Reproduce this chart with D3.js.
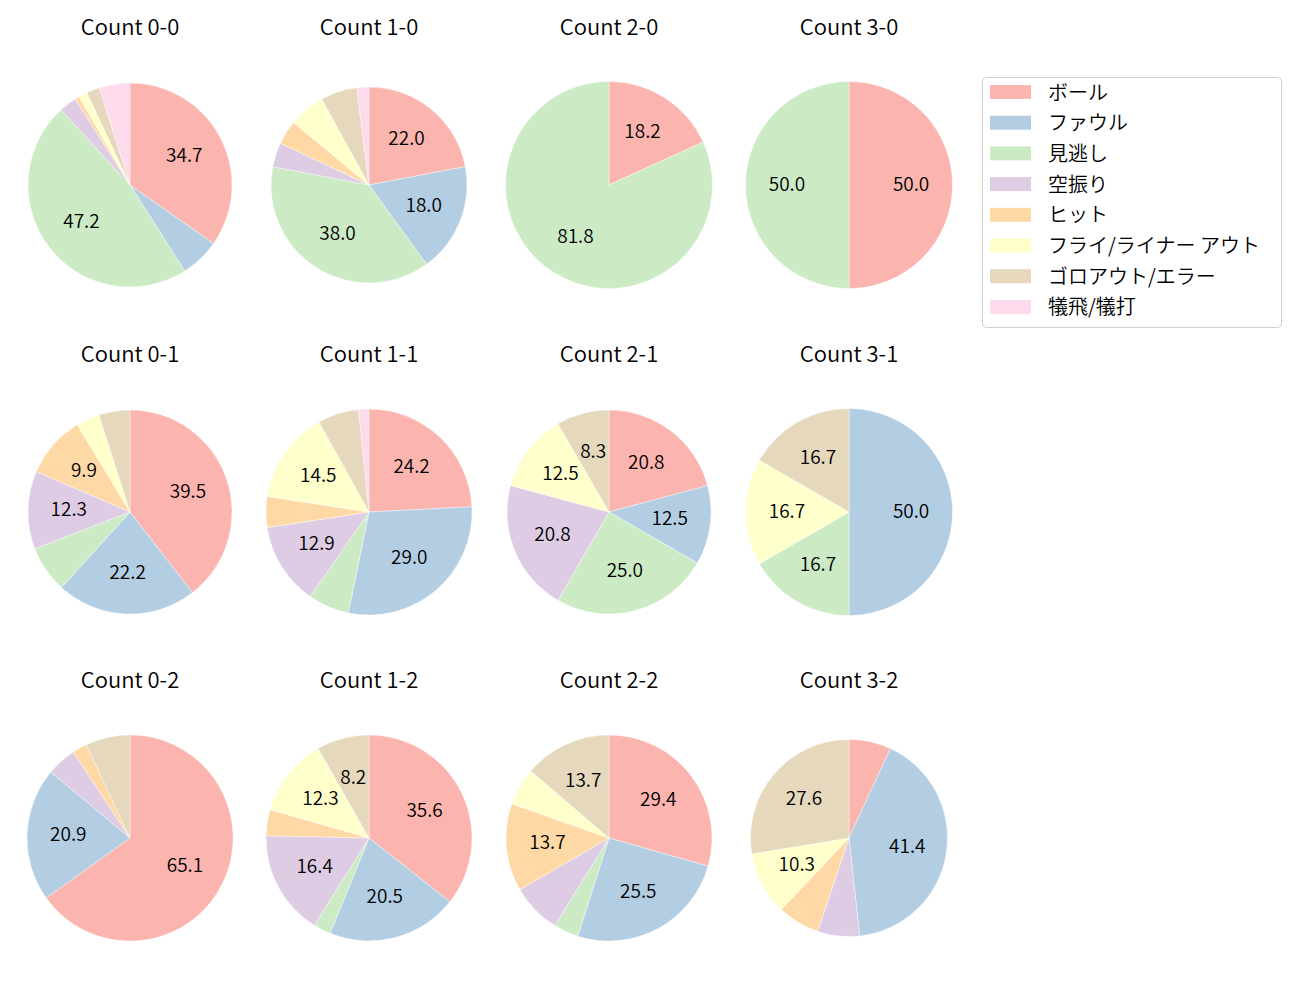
<!DOCTYPE html>
<html>
<head>
<meta charset="utf-8">
<script src="https://cdn.jsdelivr.net/npm/d3@7"></script>
<style>
  html, body { margin: 0; padding: 0; background: #fff; }
  svg { display: block; font-family: "Noto Sans CJK JP", "Noto Sans", sans-serif; }
</style>
</head>
<body>
<svg id="chart" width="1300" height="1000"></svg>
<script>
// ---- data ----
const categories = ["ボール", "ファウル", "見逃し", "空振り", "ヒット", "フライ/ライナー アウト", "ゴロアウト/エラー", "犠飛/犠打"];
const colors = ["#fbb4ae", "#b3cde3", "#ccebc5", "#decbe4", "#fed9a6", "#ffffcc", "#e5d8bd", "#fddaec"];
const titles = ["Count 0-0", "Count 1-0", "Count 2-0", "Count 3-0",
                "Count 0-1", "Count 1-1", "Count 2-1", "Count 3-1",
                "Count 0-2", "Count 1-2", "Count 2-2", "Count 3-2"];
const c00 = [50, 9, 68, 4, 1, 2, 3, 7];
const c10 = [11, 9, 19, 2, 2, 3, 3, 1];
const c20 = [2, 0, 9, 0, 0, 0, 0, 0];
const c30 = [1, 0, 1, 0, 0, 0, 0, 0];
const c01 = [32, 18, 6, 10, 8, 3, 4, 0];
const c11 = [15, 18, 4, 8, 3, 9, 4, 1];
const c21 = [5, 3, 6, 5, 0, 3, 2, 0];
const c31 = [0, 3, 1, 0, 0, 1, 1, 0];
const c02 = [28, 9, 0, 2, 1, 0, 3, 0];
const c12 = [26, 15, 2, 12, 3, 9, 6, 0];
const c22 = [15, 13, 2, 4, 7, 3, 7, 0];
const c32 = [2, 12, 0, 2, 2, 3, 8, 0];
const series = [c00, c10, c20, c30, c01, c11, c21, c31, c02, c12, c22, c32];
const labelThreshold = 8; // percent

// ---- layout ----
const colX = [130, 369, 609, 849];
const rowY = [185, 512, 838];
const radii = [102, 98, 103.5, 103.5, 102, 103, 102, 103.5, 103, 103, 103, 98.5];
const titleOffset = 150;

const svg = d3.select("#chart");
const color = d3.scaleOrdinal().domain(categories).range(colors);
const pie = d3.pie().sort(null).value(d => d.v).startAngle(0).endAngle(2 * Math.PI);

series.forEach((vals, i) => {
  const cx = colX[i % 4], cy = rowY[Math.floor(i / 4)];
  const r = radii[i];
  const total = d3.sum(vals);
  const data = vals.map((v, k) => ({ cat: categories[k], v }));
  const arcs = pie(data);
  const arc = d3.arc().innerRadius(0).outerRadius(r);
  const labelArc = d3.arc().innerRadius(r * 0.6).outerRadius(r * 0.6);
  const g = svg.append("g").attr("transform", `translate(${cx},${cy})`);
  g.selectAll("path").data(arcs.filter(a => a.data.v > 0)).join("path")
    .attr("d", arc)
    .attr("fill", d => color(d.data.cat))
    .attr("stroke", "#fff").attr("stroke-width", 0.4);
  g.selectAll("text.pct").data(arcs.filter(a => a.data.v / total * 100 >= labelThreshold)).join("text")
    .attr("class", "pct")
    .attr("transform", d => { const c = labelArc.centroid(d); return `translate(${c[0]},${c[1] - 3})`; })
    .attr("text-anchor", "middle")
    .attr("dominant-baseline", "central")
    .attr("font-size", 19)
    .attr("font-weight", 350)
    .attr("fill", "#000")
    .text(d => (d.data.v / total * 100).toFixed(1));
  svg.append("text")
    .attr("x", cx).attr("y", cy - titleOffset)
    .attr("text-anchor", "middle")
    .attr("font-size", 22)
    .attr("font-weight", 350)
    .attr("fill", "#000")
    .text(titles[i]);
});

// ---- legend ----
const lg = svg.append("g").attr("transform", "translate(982,77)");
lg.append("rect").attr("x", 0.5).attr("y", 0.5).attr("width", 299).attr("height", 250)
  .attr("rx", 4).attr("fill", "#fff").attr("stroke", "#d0d0d0").attr("stroke-width", 1);
const rowH = 30.7;
categories.forEach((c, k) => {
  const y = 15 + k * rowH;
  lg.append("rect").attr("x", 8).attr("y", y - 7).attr("width", 41).attr("height", 14)
    .attr("fill", color(c));
  lg.append("text").attr("x", 66).attr("y", y - 1).attr("dominant-baseline", "central")
    .attr("font-size", 20).attr("font-weight", 350).attr("fill", "#000").text(c);
});
</script>
</body>
</html>
